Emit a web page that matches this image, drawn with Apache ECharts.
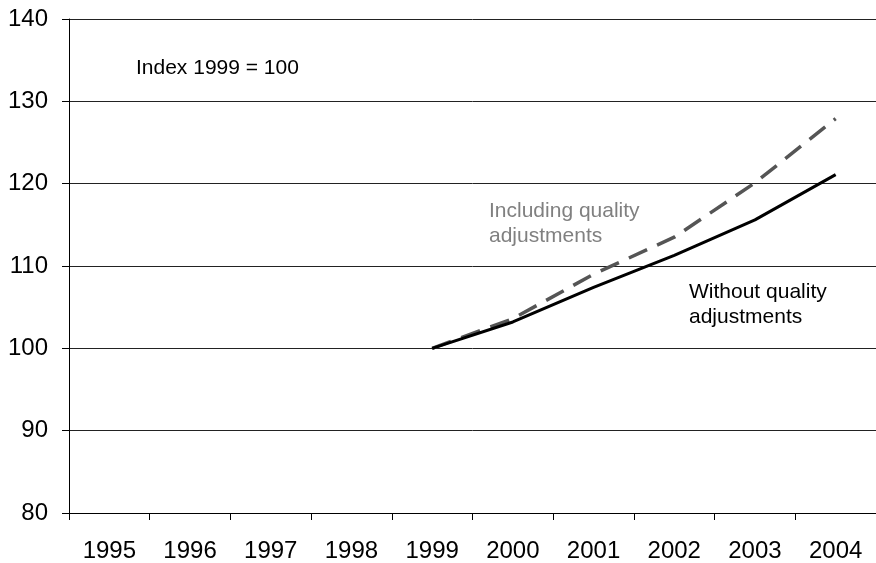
<!DOCTYPE html>
<html>
<head>
<meta charset="utf-8">
<script src="https://cdn.jsdelivr.net/npm/echarts@6/dist/echarts.min.js"></script>
<style>
  html, body { margin: 0; padding: 0; background: #fff; }
  #chart { width: 876px; height: 563px; }
</style>
</head>
<body>
<div id="chart"></div>
<script>
// Years on the category axis
const years = ['1995', '1996', '1997', '1998', '1999', '2000', '2001', '2002', '2003', '2004'];
// Price index (1999 = 100) without quality adjustments
const withoutQuality = [null, null, null, null, 100, 103.2, 107.4, 111.3, 115.6, 121.1];
// Price index (1999 = 100) including quality adjustments
const includingQuality = [null, null, null, null, 100, 103.6, 109.0, 113.5, 120.1, 127.9];
// Value axis range
const yMin = 80, yMax = 140, yStep = 10;

const FONT = '"Liberation Sans", Arial, Helvetica, sans-serif';

const chart = echarts.init(document.getElementById('chart'), null, { renderer: 'canvas' });
chart.setOption({
  animation: false,
  backgroundColor: '#ffffff',
  grid: { left: 69, top: 19, width: 811, bottom: 50, containLabel: false },
  xAxis: {
    type: 'category',
    data: years,
    boundaryGap: true,
    axisLine: { show: true, lineStyle: { color: '#000', width: 1 } },
    axisTick: { show: true, inside: false, length: 7, alignWithLabel: false, lineStyle: { color: '#000' } },
    axisLabel: { color: '#000', fontFamily: FONT, fontSize: 24, margin: 26 },
    splitLine: { show: false }
  },
  yAxis: {
    type: 'value',
    min: yMin,
    max: yMax,
    interval: yStep,
    axisLine: { show: true, lineStyle: { color: '#000', width: 1 } },
    axisTick: { show: true, inside: false, length: 7, lineStyle: { color: '#000' } },
    axisLabel: { color: '#000', fontFamily: FONT, fontSize: 24, margin: 21 },
    splitLine: { show: true, lineStyle: { color: '#222', width: 1 } }
  },
  series: [
    {
      name: 'Without quality adjustments',
      type: 'line',
      data: withoutQuality,
      showSymbol: false,
      connectNulls: false,
      lineStyle: { color: '#000', width: 3 },
      z: 3
    },
    {
      name: 'Including quality adjustments',
      type: 'line',
      data: includingQuality,
      showSymbol: false,
      connectNulls: false,
      lineStyle: { color: '#555', width: 3.5, type: [20, 11] },
      z: 2
    }
  ],
  graphic: [
    {
      type: 'text', left: 136, top: 58,
      style: { text: 'Index 1999 = 100', fill: '#000', font: '21px ' + FONT }
    },
    {
      type: 'text', left: 489, top: 199,
      style: { text: 'Including quality\nadjustments', fill: '#808080', font: '21px ' + FONT, lineHeight: 25 }
    },
    {
      type: 'text', left: 689, top: 280,
      style: { text: 'Without quality\nadjustments', fill: '#000', font: '21px ' + FONT, lineHeight: 25 }
    }
  ]
});
</script>
</body>
</html>
